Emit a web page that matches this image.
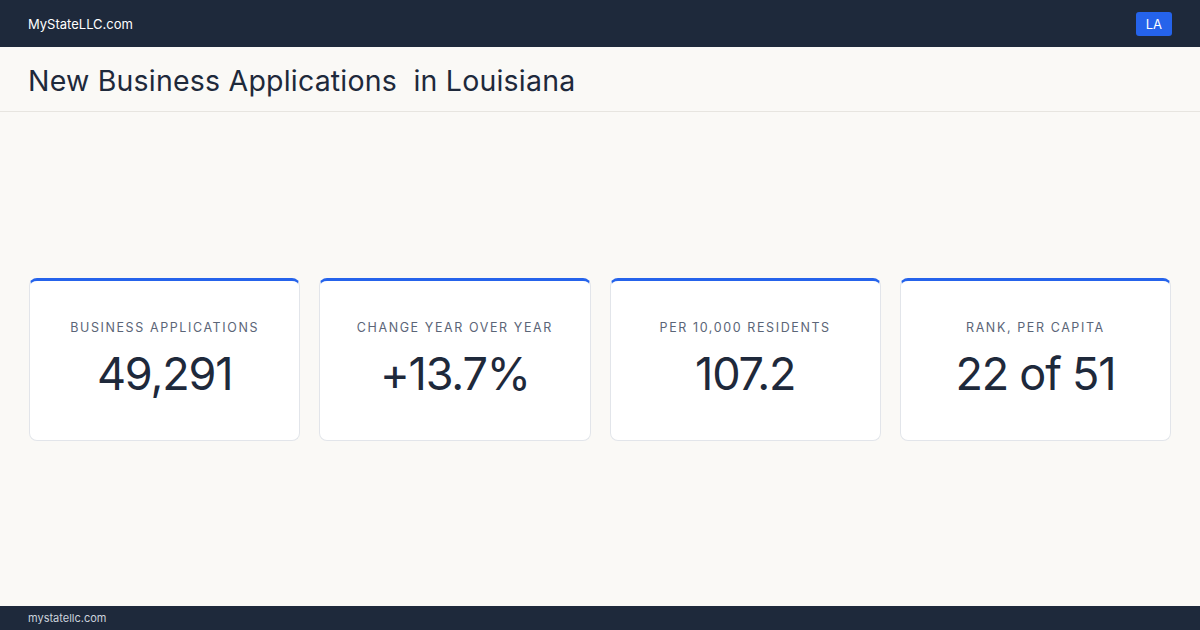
<!DOCTYPE html>
<html><head><meta charset="utf-8">
<script src="https://cdn.jsdelivr.net/npm/chart.js@4"></script>
<style>
*{box-sizing:border-box;margin:0;padding:0}
body{width:1200px;height:630px;background:#faf9f6;font-family:Inter,"Noto Sans",sans-serif;color:#1e293b;position:relative;overflow:hidden}
.top{height:47px;background:#1e293b;color:#fff;display:flex;align-items:center;justify-content:space-between;padding:0 28px;font-size:13px}
.badge{background:#2563eb;color:#fff;border-radius:3px;padding:4px 10px;font-size:13px}
.title{height:65px;border-bottom:1px solid #e7e5e0;padding:2px 28px 0;display:flex;align-items:center;font-size:28.5px;font-weight:400;color:#1e293b;letter-spacing:0.2px}
.cards{position:absolute;top:278px;left:29px;right:29px;display:flex;gap:19px}
.card{flex:1;height:163px;background:#fff;border:1px solid #e2e5ea;border-top:3px solid #2563eb;border-radius:8px;text-align:center}
.lab{margin-top:39px;font-size:12.5px;letter-spacing:1.6px;color:#5b6577}
.val{margin-top:11px;font-size:45px;font-weight:400;color:#1e293b;letter-spacing:-1.2px}
.foot{position:absolute;bottom:0;left:0;right:0;height:24px;background:#1e293b;color:#cbd2dc;font-size:11px;padding-left:28px;display:flex;align-items:center}
</style></head><body>
<div class="top"><span>MyStateLLC.com</span><span class="badge">LA</span></div>
<div class="title">New Business Applications&nbsp; in Louisiana</div>
<div class="cards" id="cards"></div>
<div class="foot">mystatellc.com</div>
<script>
const labels=["BUSINESS APPLICATIONS","CHANGE YEAR OVER YEAR","PER 10,000 RESIDENTS","RANK, PER CAPITA"];
const values=["49,291","+13.7%","107.2","22 of 51"];
const c=document.getElementById('cards');
labels.forEach((l,i)=>{const d=document.createElement('div');d.className='card';
d.innerHTML='<div class="lab">'+l+'</div><div class="val">'+values[i]+'</div>';c.appendChild(d);});
</script>
</body></html>
